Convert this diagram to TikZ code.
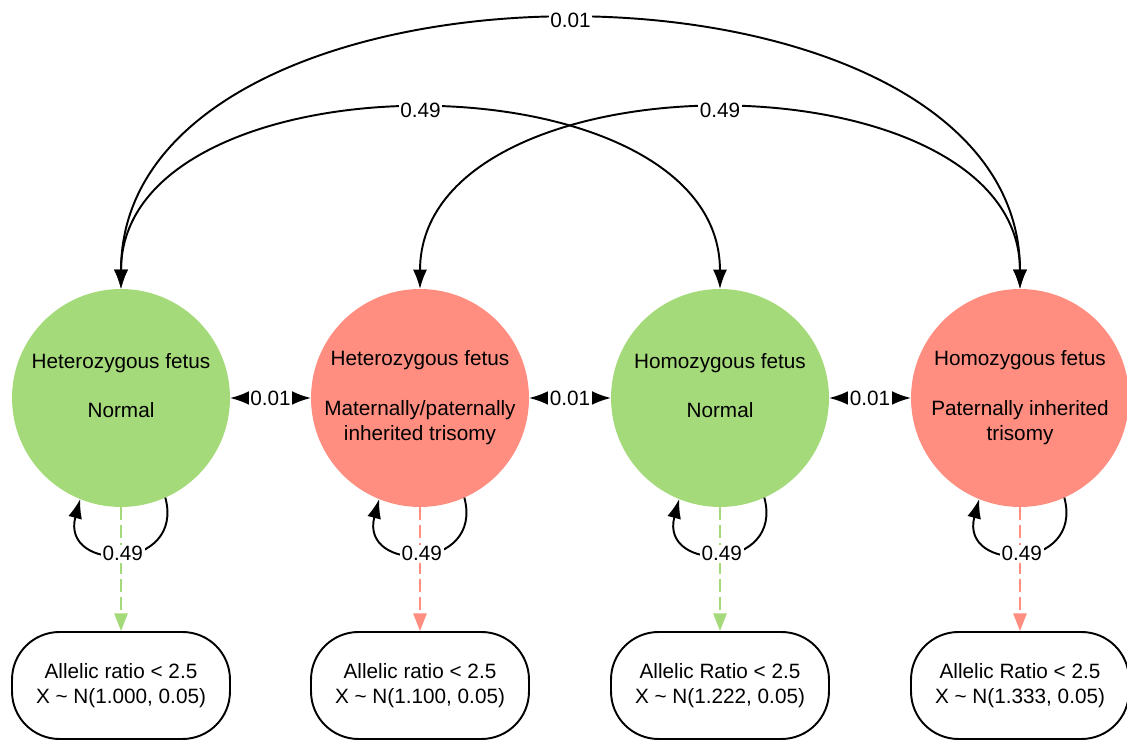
\documentclass[tikz,border=0pt]{standalone}
\usepackage{fontspec}
\setmainfont{Liberation Sans}
\usetikzlibrary{arrows.meta}
\definecolor{normgreen}{RGB}{165,218,122}
\definecolor{trired}{RGB}{255,141,128}
\begin{document}
\begin{tikzpicture}[x=0.02cm,y=-0.02cm,>={Latex[length=11pt,width=8pt]},line width=1.1pt,
  every node/.style={font=\fontsize{11.8}{14.2}\selectfont},
  state/.style={circle,minimum size=4.36cm,inner sep=0pt,outer sep=0pt,align=center},
  obs/.style={draw,rounded corners=0.95cm,minimum width=4.36cm,minimum height=2.14cm,align=center},
  lbl/.style={fill=white,inner sep=1pt},
  emit/.style={dash pattern=on 7.4pt off 2.8pt,-{Triangle[length=10pt,width=7.5pt]}}]
\useasboundingbox (0,0) rectangle (1127,742);
% hidden states
\node[state,fill=normgreen](hetN) at (121,398){Heterozygous fetus\\ ~\\ Normal\\ ~};
\node[state,fill=trired](hetT) at (420,398){Heterozygous fetus\\ ~\\ Maternally/paternally\\ inherited trisomy};
\node[state,fill=normgreen](homN) at (720,398){Homozygous fetus\\ ~\\ Normal\\ ~};
\node[state,fill=trired](homT) at (1020,398){Homozygous fetus\\ ~\\ Paternally inherited\\ trisomy};
% observations
\node[obs](arHetN) at (121,685.5){Allelic ratio < 2.5\\ X \textasciitilde{} N(1.000, 0.05)};
\node[obs](arHetT) at (420,685.5){Allelic ratio < 2.5\\ X \textasciitilde{} N(1.100, 0.05)};
\node[obs](arHomN) at (720,685.5){Allelic Ratio < 2.5\\ X \textasciitilde{} N(1.222, 0.05)};
\node[obs](arHomT) at (1020,685.5){Allelic Ratio < 2.5\\ X \textasciitilde{} N(1.333, 0.05)};
\draw[emit,normgreen](hetN)--(arHetN);
\draw[emit,trired](hetT)--(arHetT);
\draw[emit,normgreen](homN)--(arHomN);
\draw[emit,trired](homT)--(arHomT);
% neighbour transitions
\draw[<->](hetN)--node[lbl]{0.01}(hetT);
\draw[<->](hetT)--node[lbl]{0.01}(homN);
\draw[<->](homN)--node[lbl]{0.01}(homT);
% long jumps over the top
\draw[<->](hetN.north) to[out=90,in=90,looseness=1.02] node[lbl]{0.49}(homN.north);
\draw[<->](hetT.north) to[out=90,in=90,looseness=1.02] node[lbl]{0.49}(homT.north);
\draw[<->](hetN.north) to[out=90,in=90,looseness=1.02] node[lbl]{0.01}(homT.north);
% staying put
\foreach \s in {hetN,hetT,homN,homT}
  \draw[<-](\s.-112) to[out=-105,in=-75,looseness=2.3] node[lbl]{0.49}(\s.-66);
\end{tikzpicture}
\end{document}
